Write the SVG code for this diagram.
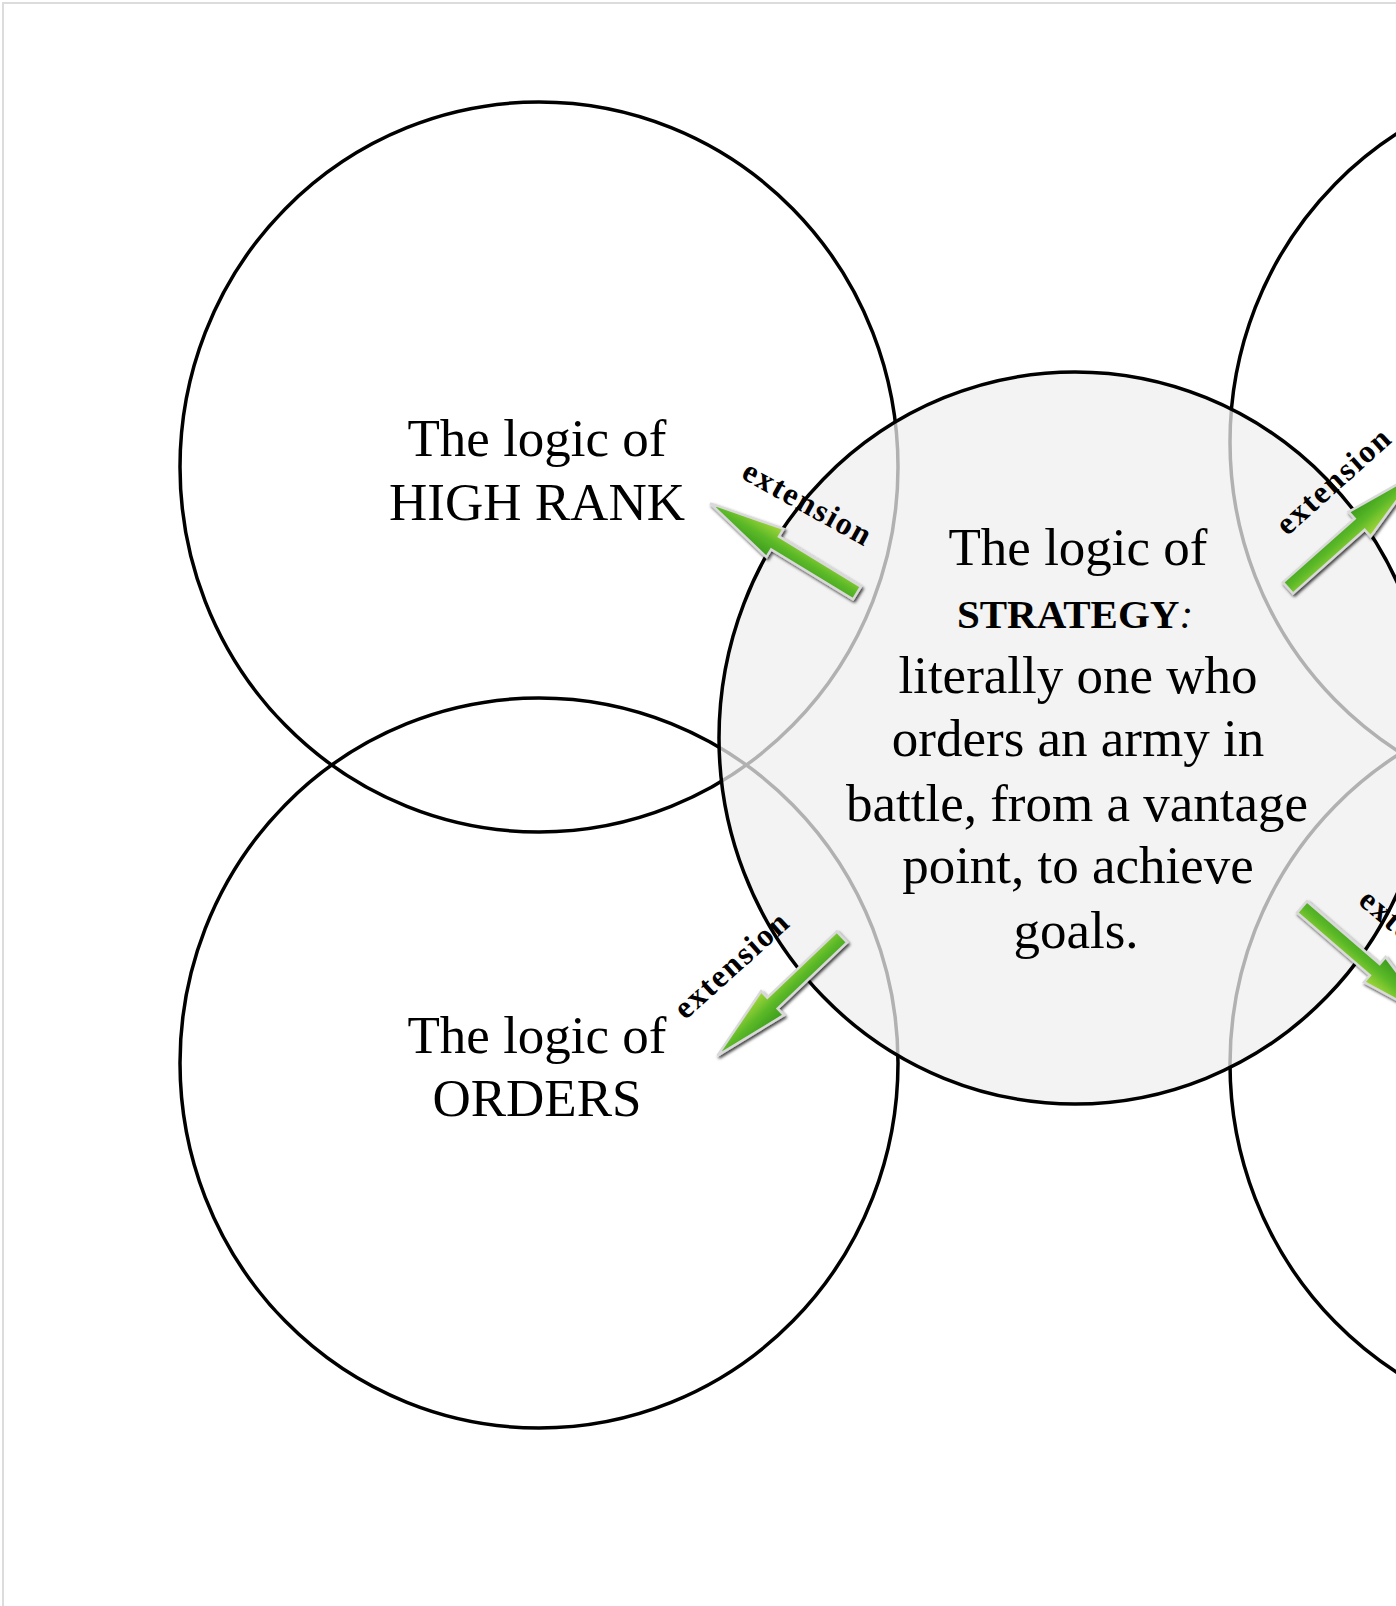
<svg xmlns="http://www.w3.org/2000/svg" width="1396" height="1606" viewBox="0 0 1396 1606">
<defs>
<style>
.ring{fill:none;stroke:#000;stroke-width:3.5}
.lbl{font-family:"Liberation Serif",serif;font-size:53px;fill:#000;text-anchor:middle}
.ctr{font-family:"Liberation Serif",serif;font-size:53px;fill:#000;text-anchor:middle}
.ext{font-family:"Liberation Serif",serif;font-size:32px;font-weight:bold;fill:#000}
.arw{fill:url(#grn);stroke:#d9d9d9;stroke-width:2.5;stroke-linejoin:miter}
</style>
<linearGradient id="grn" x1="0" y1="0" x2="0" y2="1">
<stop offset="0" stop-color="#3a9c1c"/>
<stop offset="0.5" stop-color="#5cb928"/>
<stop offset="1" stop-color="#a6d83a"/>
</linearGradient>
<filter id="sh" x="-20%" y="-20%" width="140%" height="140%">
<feDropShadow dx="1.5" dy="2" stdDeviation="1.5" flood-color="#000" flood-opacity="0.75"/>
</filter>
<path id="arrow" d="M0,-7.5 L96,-7.5 L96,-16.5 L172,0 L96,16.5 L96,7.5 L0,7.5 Z"/>
</defs>
<rect x="3" y="3" width="1400" height="1610" fill="#fff" stroke="#dcdcdc" stroke-width="2"/>
<g id="node-high-rank">
<ellipse class="ring" cx="539" cy="467" rx="359" ry="365"/>
<text class="lbl" x="537" y="456">The logic of</text>
<text class="lbl" x="537" y="520">HIGH RANK</text>
</g>
<g id="node-orders">
<ellipse class="ring" cx="539" cy="1063" rx="359" ry="365"/>
<text class="lbl" x="537" y="1053">The logic of</text>
<text class="lbl" x="537" y="1116">ORDERS</text>
</g>
<g id="node-top-right">
<ellipse class="ring" cx="1589" cy="442" rx="359" ry="365"/>
</g>
<g id="node-bottom-right">
<ellipse class="ring" cx="1589" cy="1064" rx="359" ry="365"/>
</g>
<g id="node-strategy">
<ellipse cx="1075" cy="738" rx="356" ry="366" fill="#efefef" fill-opacity="0.74" stroke="#000" stroke-width="3.5"/>
<text class="ctr" x="1078" y="565">The logic of</text>
<text class="ctr" x="1075" y="628"><tspan font-weight="bold" font-size="41">STRATEGY</tspan><tspan font-size="41" font-style="italic">:</tspan></text>
<text class="ctr" x="1078" y="693">literally one who</text>
<text class="ctr" x="1078" y="756">orders an army in</text>
<text class="ctr" x="1077" y="821">battle, from a vantage</text>
<text class="ctr" x="1078" y="883">point, to achieve</text>
<text class="ctr" x="1076" y="948">goals.</text>
</g>
<g id="connectors">
<g filter="url(#sh)"><use href="#arrow" class="arw" transform="translate(857,593) rotate(211.4)"/></g>
<g filter="url(#sh)"><use href="#arrow" class="arw" transform="translate(842,937) rotate(136.4)"/></g>
<g filter="url(#sh)"><use href="#arrow" class="arw" transform="translate(1288,588) rotate(-41.7)"/></g>
<g filter="url(#sh)"><use href="#arrow" class="arw" transform="translate(1302,907) rotate(40.7)"/></g>
<text class="ext" text-anchor="middle" textLength="142" lengthAdjust="spacing" transform="translate(802,512) rotate(29)">extension</text>
<text class="ext" text-anchor="middle" textLength="142" lengthAdjust="spacing" transform="translate(738,973) rotate(-42)">extension</text>
<text class="ext" text-anchor="middle" textLength="142" lengthAdjust="spacing" transform="translate(1340,489) rotate(-42)">extension</text>
<text class="ext" text-anchor="start" textLength="142" lengthAdjust="spacing" transform="translate(1357,903) rotate(40)">extension</text>
</g>
</svg>
